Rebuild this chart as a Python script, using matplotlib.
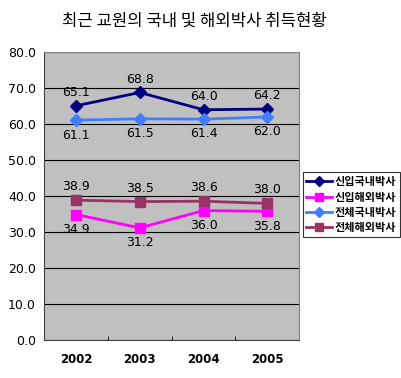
import matplotlib
matplotlib.use("Agg")
import matplotlib.pyplot as plt

plt.rcParams['font.family'] = ['Noto Sans CJK KR', 'DejaVu Sans']

years = ['2002', '2003', '2004', '2005']
series_names = ['신입국내박사', '신입해외박사', '전체국내박사', '전체해외박사']
new_domestic = [65.1, 68.8, 64.0, 64.2]
new_foreign = [34.9, 31.2, 36.0, 35.8]
all_domestic = [61.1, 61.5, 61.4, 62.0]
all_foreign = [38.9, 38.5, 38.6, 38.0]
yticks = [0, 10, 20, 30, 40, 50, 60, 70, 80]

fig = plt.figure(figsize=(4.01, 3.78), dpi=100)
ax = fig.add_axes([0.11, 0.10, 0.636, 0.762])
ax.set_facecolor('#c0c0c0')

x = list(range(len(years)))
styles = [
    (new_domestic, '#000080', 'D', 'above'),
    (new_foreign, '#ff00ff', 's', 'below'),
    (all_domestic, '#3f7fff', 'D', 'below'),
    (all_foreign, '#993366', 's', 'above'),
]
for (vals, col, mk, pos), name in zip(styles, series_names):
    ax.plot(x, vals, color=col, marker=mk, markersize=6.5 if mk == 's' else 6,
            linewidth=2, label=name, zorder=3)
    for xi, v in zip(x, vals):
        dy = 5 if pos == 'above' else -6
        ax.annotate(f'{v:.1f}', (xi, v), xytext=(0, dy), textcoords='offset points',
                    ha='center', va='bottom' if pos == 'above' else 'top',
                    fontsize=9, family='DejaVu Sans', zorder=4)

ax.set_ylim(0, 80)
ax.set_xlim(-0.5, 3.5)
ax.set_yticks(yticks)
ax.set_yticklabels([f'{t:.1f}' for t in yticks], fontsize=9, family='DejaVu Sans')
ax.yaxis.grid(True, color='black', linewidth=0.8)
ax.set_axisbelow(True)
ax.tick_params(axis='y', length=0, pad=6)
ax.set_xticks(x)
ax.set_xticklabels(years, fontsize=8.5, family='DejaVu Sans', fontweight='bold')
ax.set_xticks([0.5, 1.5, 2.5], minor=True)
ax.tick_params(axis='x', which='major', length=0, pad=9)
ax.tick_params(axis='x', which='minor', length=3, direction='in')
for s in ['top', 'right']:
    ax.spines[s].set_color('#808080')
ax.spines['left'].set_color('#404040')
ax.spines['bottom'].set_color('#404040')

leg = fig.legend(loc='upper left', bbox_to_anchor=(0.755, 0.545),
                 prop={'size': 8, 'weight': 'bold'},
                 frameon=True, fancybox=False, edgecolor='black', borderpad=0.3,
                 handlelength=2.3, labelspacing=0.2, handletextpad=0.3, markerscale=0.8,
                 borderaxespad=0)
leg.get_frame().set_linewidth(0.8)

fig.text(0.485, 0.943, '최근 교원의 국내 및 해외박사 취득현황', ha='center', va='center',
         fontsize=12)

fig.savefig('out.png', dpi=100)
